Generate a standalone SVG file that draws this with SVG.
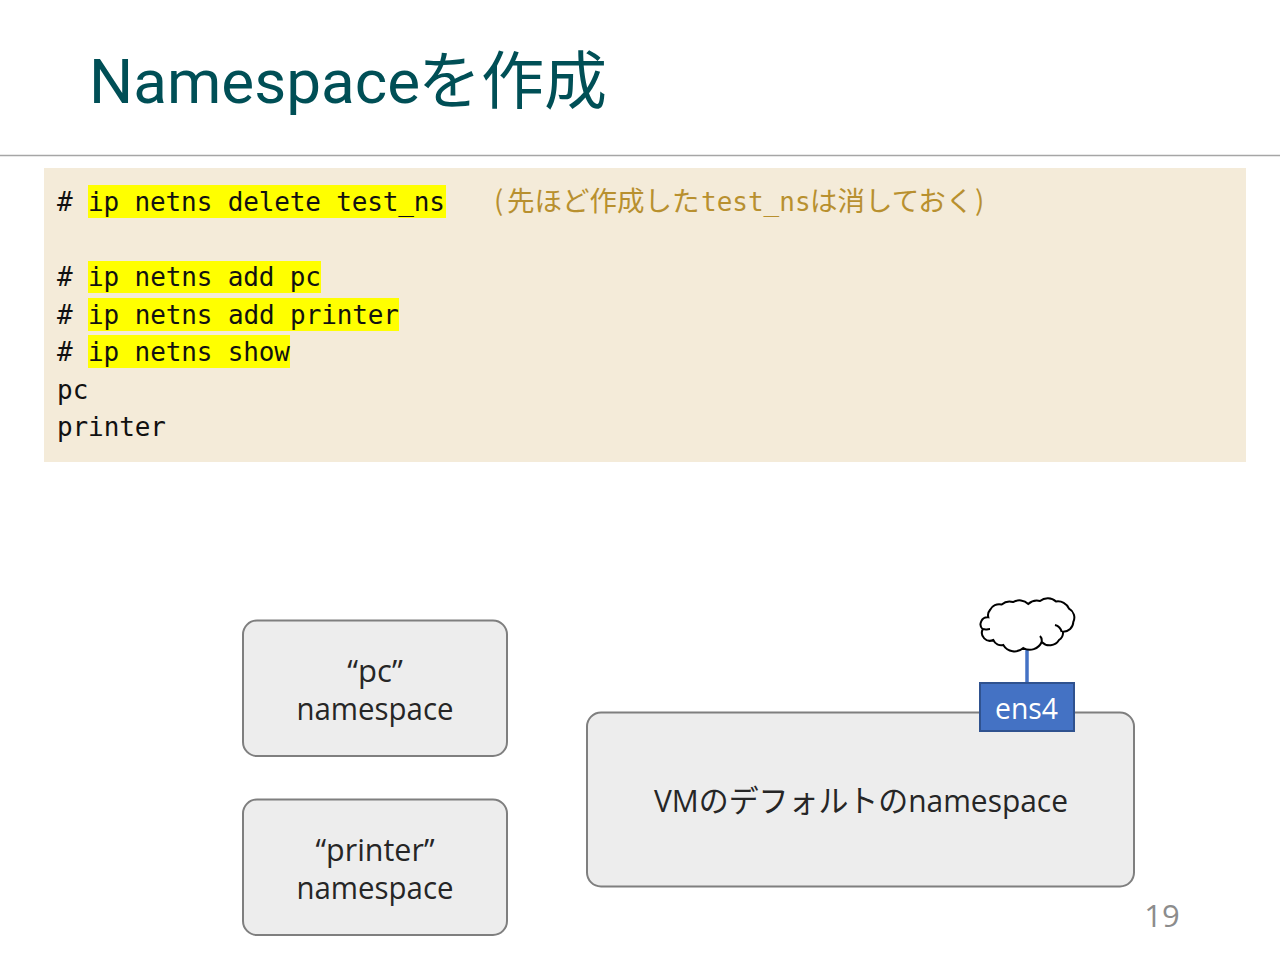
<svg xmlns="http://www.w3.org/2000/svg" width="1280" height="960" viewBox="0 0 1280 960">
<style>
text{font-family:"Open Sans","Noto Sans CJK JP",sans-serif}
.m{font-family:"DejaVu Sans Mono","Noto Sans CJK JP",monospace;font-size:26px;fill:#111}
.j{font-size:27.500px;font-family:"Noto Sans CJK JP",sans-serif}
.y{fill:#ffff00}
.n{fill:#ededed;stroke:#7f7f7f;stroke-width:2}
.l{font-size:31px;fill:#262626;text-anchor:middle}
</style>
<rect width="1280" height="960" fill="#fff"/>
<text x="89" y="103" font-size="62" fill="#004f56" style="font-family:Roboto,'Noto Sans CJK JP',sans-serif">Namespace<tspan x="418" font-size="63" style="font-family:'Noto Sans CJK JP',sans-serif">を作成</tspan></text>
<line x1="0" y1="155.500" x2="1280" y2="155.500" stroke="#a6a6a6" stroke-width="1.500"/>
<rect x="44" y="168" width="1202" height="294" fill="#f4ebd9"/>
<g id="highlights">
<rect class="y" x="88" y="185" width="358" height="33"/>
<rect class="y" x="88" y="261" width="233" height="32"/>
<rect class="y" x="88" y="298" width="311" height="33"/>
<rect class="y" x="88" y="335" width="202" height="33"/>
</g>
<g id="code">
<text class="m" x="57" y="211" textLength="388">#  ip netns delete test_ns</text>
<text class="m" y="211" style="fill:#b8902f"><tspan class="j" x="494">(</tspan><tspan class="j" x="507">先ほど作成した</tspan><tspan x="701">test_ns</tspan><tspan class="j" x="810">は消しておく</tspan><tspan class="j" x="975">)</tspan></text>
<text class="m" x="57" y="286" textLength="264">#  ip netns add pc</text>
<text class="m" x="57" y="324" textLength="342">#  ip netns add printer</text>
<text class="m" x="57" y="361" textLength="233">#  ip netns show</text>
<text class="m" x="57" y="399">pc</text>
<text class="m" x="57" y="436" textLength="109">printer</text>
</g>
<g id="connectors">
<line x1="1027" y1="645" x2="1027" y2="683" stroke="#4472c4" stroke-width="3.500"/>
</g>
<g id="pc">
<rect class="n" x="243" y="620.500" width="264" height="135.500" rx="14"/>
<text class="l" x="375" y="682">“pc”</text>
<text class="l" x="375" y="720" textLength="157" lengthAdjust="spacingAndGlyphs">namespace</text>
</g>
<g id="printer">
<rect class="n" x="243" y="799.500" width="264" height="135.500" rx="14"/>
<text class="l" x="375" y="861" textLength="119" lengthAdjust="spacingAndGlyphs">“printer”</text>
<text class="l" x="375" y="899" textLength="157" lengthAdjust="spacingAndGlyphs">namespace</text>
</g>
<g id="vm">
<rect class="n" x="587" y="712.500" width="547" height="174" rx="14"/>
<text class="l" x="861" y="812" textLength="414" lengthAdjust="spacingAndGlyphs">VMのデフォルトのnamespace</text>
</g>
<g id="ens4">
<rect x="980" y="683" width="94" height="48" fill="#4472c4" stroke="#2f528f" stroke-width="2"/>
<text x="1026.500" y="719" font-size="30" fill="#fff" text-anchor="middle" textLength="63" lengthAdjust="spacingAndGlyphs">ens4</text>
</g>
<g id="cloud" fill="none" stroke="#000" stroke-width="2">
<path fill="#fff" d="M988.300 617.300A7 7 0 0 0 982.700 629.300A8 8 0 0 0 993.300 640A9 9 0 0 0 1003.300 645A13 13 0 0 0 1023.300 648A13 13 0 0 0 1041.700 642A11 11 0 0 0 1059 640A9 9 0 0 0 1063 631.700A10 10 0 0 0 1073.300 622A10 10 0 0 0 1069 608.700A12 12 0 0 0 1056 601.500A12 12 0 0 0 1040 601A13 13 0 0 0 1028.300 604A13 13 0 0 0 1013 602A12 12 0 0 0 1001.700 604.500A10 10 0 0 0 990 610A8 8 0 0 0 988.300 617.300Z"/>
<path d="M983 629C986 630 988 629 990 629M1055 625C1059 626 1061 629 1061.700 632M1041.700 641.700C1042 639 1041 637 1040 636"/>
</g>
<text x="1162" y="927" font-size="31" fill="#8c8c8c" text-anchor="middle">19</text>
</svg>
